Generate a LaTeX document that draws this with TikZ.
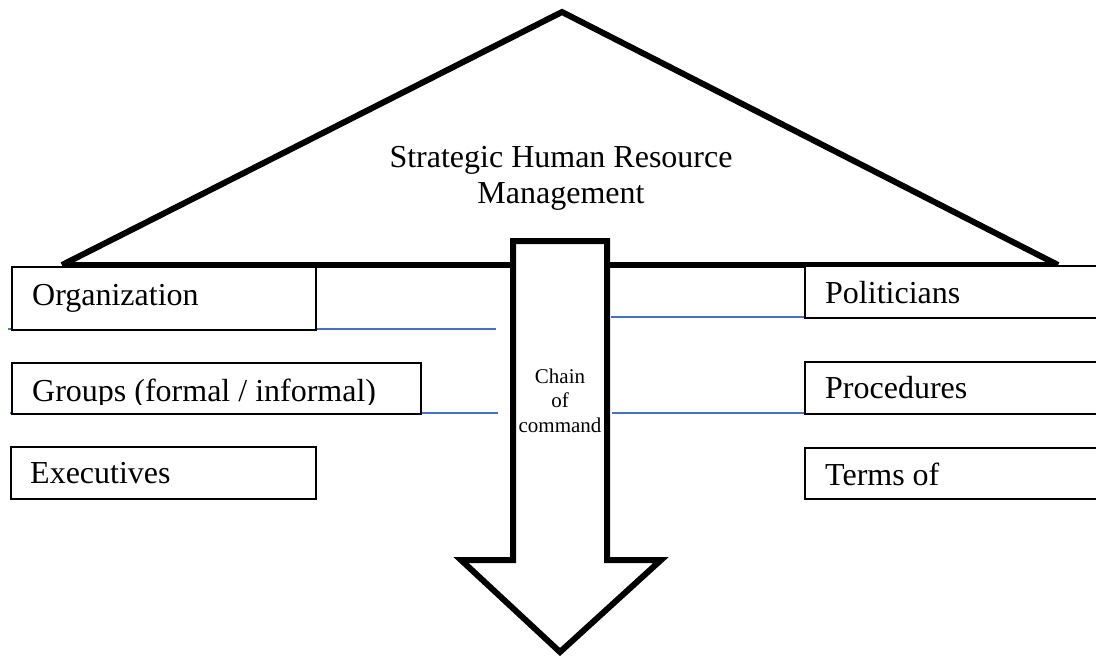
\documentclass[tikz,border=0pt]{standalone}
\usepackage{fontspec}
\setmainfont{Liberation Serif}
\usetikzlibrary{positioning}
\definecolor{linkblue}{HTML}{4472C4}

\begin{document}
\begin{tikzpicture}[x=1pt,y=-1pt,
roof/.style={line width=6pt,line join=miter},
itembox/.style={draw,line width=1.5pt,fill=white,anchor=north west,inner sep=0pt},
itemtext/.style={anchor=base west,inner sep=0pt,font=\fontsize{32}{36}\selectfont},
linkline/.style={linkblue,line width=1.3pt}]
\useasboundingbox (0,0) rectangle (1096,664);
\draw[roof] (62,265)--(562,12)--(1058,265);
\draw[roof] (62,265)--(1058,265);
\node[align=center,inner sep=0pt,font=\fontsize{32}{36}\selectfont] (shrm) at (561,178.5) {Strategic Human Resource\\Management};
\coordinate (orgend) at (496,329);
\coordinate (grpend) at (498,413);
\coordinate (polstart) at (611,317);
\coordinate (prostart) at (612,413);
\draw[linkline] (8,329)--(orgend);
\draw[linkline] (10,413)--(grpend);
\draw[linkline] (polstart)--(804,317);
\draw[linkline] (prostart)--(804,413);
\node[itembox,minimum width=304pt,minimum height=63pt] (org) at (11,266) {};
\node[itembox,minimum width=409pt,minimum height=51pt] (grp) at (11,362) {};
\node[itembox,minimum width=305pt,minimum height=52pt] (exe) at (10,446) {};
\node[itembox,minimum width=296pt,minimum height=52pt] (pol) at (804,265) {};
\node[itembox,minimum width=296pt,minimum height=52pt] (pro) at (804,361) {};
\node[itembox,minimum width=296pt,minimum height=51pt] (trm) at (804,447) {};
\node[itemtext] at (32,305) {Organization};
\begin{scope}
\clip (grp.north west) rectangle (420,404);
\node[itemtext] at (32,401) {Groups (formal / informal)};
\end{scope}
\node[itemtext] at (30,483) {Executives};
\node[itemtext] at (825,303) {Politicians};
\node[itemtext] at (825,398) {Procedures};
\node[itemtext] at (825,485) {Terms of};
\draw[roof,fill=white] (513,241)--(607,241)--(607,560)--(661,560)--(560,652)--(461,560)--(513,560)--cycle;
\node[align=center,inner sep=0pt,font=\fontsize{21}{24.5}\selectfont] (chain) at (560,400.5) {Chain\\of\\command};
\end{tikzpicture}
\end{document}
